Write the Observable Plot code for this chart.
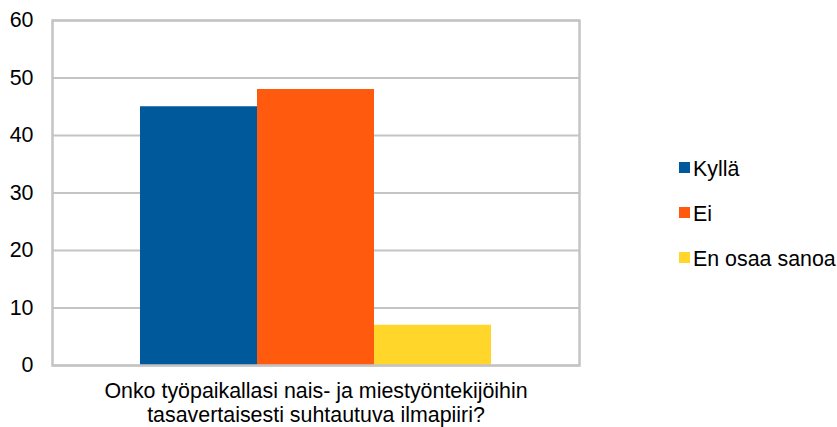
<!DOCTYPE html>
<html>
<head>
<meta charset="utf-8">
<script src="https://cdn.jsdelivr.net/npm/d3@7"></script>
<script src="https://cdn.jsdelivr.net/npm/@observablehq/plot@0.6"></script>
<style>
  html, body { margin: 0; padding: 0; background: #fff; }
  #wrap { position: relative; width: 837px; height: 427px; font-family: "Liberation Sans", Arial, sans-serif; }
  #legend { position: absolute; left: 679px; top: 0; }
  .item { position: absolute; left: 0; white-space: nowrap; font-size: 21.4px; color: #000; line-height: 1; }
  .sw { position: absolute; left: 0; width: 11px; height: 11px; }
  .lab { position: absolute; left: 14px; }
</style>
</head>
<body>
<div id="wrap"></div>
<script>
const series = ["Kyllä", "Ei", "En osaa sanoa"];
const values = [45, 48, 7];
const colors = ["#00599b", "#ff5a0e", "#ffd629"];
const question = "Onko työpaikallasi nais- ja miestyöntekijöihin\ntasavertaisesti suhtautuva ilmapiiri?";
const yTicks = [0, 10, 20, 30, 40, 50, 60];

const data = series.map((s, i) => ({series: s, value: values[i]}));

const chart = Plot.plot({
  width: 837,
  height: 427,
  marginLeft: 52,
  marginRight: 258,
  marginTop: 20,
  marginBottom: 62,
  style: {fontFamily: "'Liberation Sans', Arial, sans-serif", fontSize: "21.4px", color: "#000", background: "#fff", overflow: "visible"},
  x: {domain: series, paddingInner: 0, paddingOuter: 0.745, axis: null},
  y: {domain: [0, 60], ticks: yTicks},
  color: {domain: series, range: colors},
  marks: [
    Plot.gridY(yTicks, {stroke: "#c4c4c4", strokeOpacity: 1, strokeWidth: 2}),
    Plot.barY(data, {x: "series", y: "value", fill: "series", inset: 0}),
    Plot.frame({stroke: "#c4c4c4", strokeWidth: 2.5}),
    Plot.axisY(yTicks, {tickSize: 0, tickPadding: 19, label: null, fontSize: 21.4, fill: "#000"}),
    Plot.text([question], {frameAnchor: "bottom", textAnchor: "middle", lineAnchor: "top", dy: 16.5, lineHeight: 1.08, fontSize: 21.4, fill: "#000"})
  ]
});

const wrap = document.getElementById("wrap");
wrap.appendChild(chart);

const legend = document.createElement("div");
legend.id = "legend";
const rowCenters = [167.5, 212.5, 257.5];
series.forEach((s, i) => {
  const item = document.createElement("div");
  item.className = "item";
  item.style.top = (rowCenters[i] - 8.9) + "px";
  const sw = document.createElement("div");
  sw.className = "sw";
  sw.style.background = colors[i];
  sw.style.top = "3.4px";
  const lab = document.createElement("div");
  lab.className = "lab";
  lab.textContent = s;
  item.appendChild(sw);
  item.appendChild(lab);
  legend.appendChild(item);
});
wrap.appendChild(legend);
</script>
</body>
</html>
